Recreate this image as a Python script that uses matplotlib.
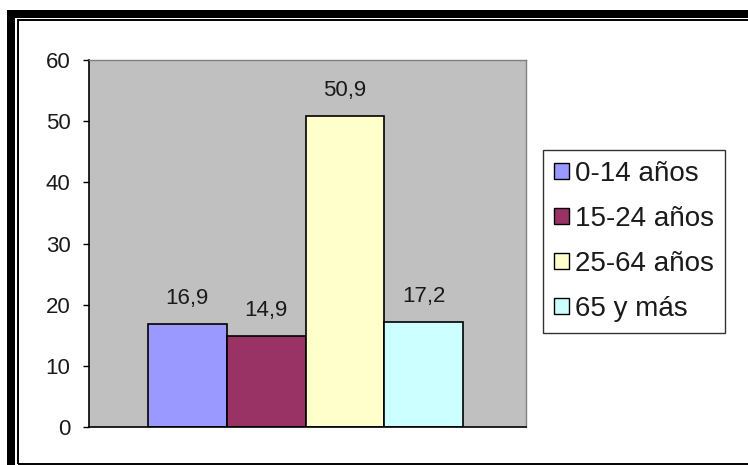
import matplotlib
matplotlib.use("Agg")
import matplotlib.pyplot as plt
from matplotlib.patches import Rectangle, Patch

# Population share by age group (%)
categories = ["0-14 años", "15-24 años", "25-64 años", "65 y más"]
values = [16.9, 14.9, 50.9, 17.2]
value_labels = ["16,9", "14,9", "50,9", "17,2"]
colors = ["#9999FF", "#993366", "#FFFFCC", "#CCFFFF"]
yticks = [0, 10, 20, 30, 40, 50, 60]

W, H = 748, 465
DPI = 100
plt.rcParams["font.family"] = ["Liberation Sans", "DejaVu Sans"]

fig = plt.figure(figsize=(W / DPI, H / DPI), dpi=DPI)
fig.patch.set_facecolor("white")


def fx(px):
    return px / W


def fy(py):
    return 1 - py / H


# plot area
left, right, top, bottom = 89, 526, 60, 427
ax = fig.add_axes([fx(left), fy(bottom), fx(right - left), (bottom - top) / H])
ax.set_facecolor("#C0C0C0")

x = list(range(len(values)))
bars = ax.bar(x, values, width=1.0, color=colors, edgecolor="black",
              linewidth=1.2, label=categories)

for xi, v, lab in zip(x, values, value_labels):
    ax.annotate(lab, (xi, v), xytext=(0, 14), textcoords="offset points",
                ha="center", va="baseline", fontsize=16, color="#1a1a1a")

ax.set_xlim(-1.247, 4.297)
ax.set_ylim(0, 60)
ax.set_yticks(yticks)
ax.set_yticklabels([str(t) for t in yticks], fontsize=16, color="#1a1a1a")
ax.set_xticks([])
ax.tick_params(axis="y", direction="out", length=4.3, width=1.0, pad=9,
               color="black")

for side in ("top", "right"):
    ax.spines[side].set_color("#808080")
    ax.spines[side].set_linewidth(1.0)
for side in ("left", "bottom"):
    ax.spines[side].set_color("black")
    ax.spines[side].set_linewidth(1.2)

# legend
handles = [Patch(facecolor=c, edgecolor="black", linewidth=1.0) for c in colors]
leg = fig.legend(handles, categories, loc="upper left",
                 bbox_to_anchor=(fx(543), fy(150)), bbox_transform=fig.transFigure,
                 fontsize=20, frameon=True, fancybox=False, borderpad=0.4,
                 handlelength=0.55, handleheight=0.5, handletextpad=0.2,
                 labelspacing=0.68, borderaxespad=0)
leg.get_frame().set_edgecolor("black")
leg.get_frame().set_linewidth(1.0)
for t in leg.get_texts():
    t.set_color("#1a1a1a")

# outer frame: heavy band on top and left, thin inner rule
fig.add_artist(Rectangle((fx(7), fy(18)), fx(W + 10 - 7), (18 - 10) / H,
                         transform=fig.transFigure, facecolor="black",
                         edgecolor="none"))
fig.add_artist(Rectangle((fx(7), fy(H + 10)), fx(8), (H + 10 - 10) / H,
                         transform=fig.transFigure, facecolor="black",
                         edgecolor="none"))
fig.add_artist(Rectangle((fx(17.5), fy(463.5)), fx(W + 10), (463.5 - 20.5) / H,
                         transform=fig.transFigure, facecolor="none",
                         edgecolor="black", linewidth=1.4))

fig.savefig("out.png", dpi=DPI)
